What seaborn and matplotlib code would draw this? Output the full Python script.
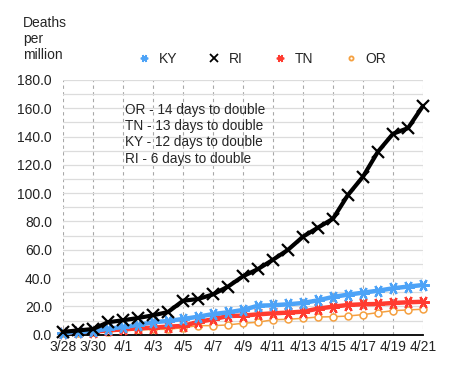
import matplotlib
matplotlib.use("Agg")
import matplotlib.pyplot as plt
from matplotlib.ticker import MultipleLocator, FuncFormatter
from matplotlib.lines import Line2D
import seaborn as sns
import pandas as pd

dates = ["3/28", "3/29", "3/30", "3/31", "4/1", "4/2", "4/3", "4/4", "4/5", "4/6",
         "4/7", "4/8", "4/9", "4/10", "4/11", "4/12", "4/13", "4/14", "4/15", "4/16",
         "4/17", "4/18", "4/19", "4/20", "4/21"]
ky = [1.5, 1.8, 2.5, 4.2, 5.4, 6.9, 8.8, 9.7, 11.1, 12.7, 14.6, 15.8, 17.5, 20.5,
      20.8, 21.5, 22.4, 24.3, 26.7, 28.3, 29.7, 31.1, 32.8, 34.0, 35.1]
ri = [2.0, 3.0, 4.0, 8.8, 10.2, 11.8, 13.7, 16.0, 24.0, 25.2, 28.5, 34.0, 41.3, 46.4,
      53.0, 60.0, 69.3, 75.7, 82.0, 98.8, 111.7, 129.4, 142.0, 146.0, 161.7]
tn = [1.5, 1.8, 2.2, 3.0, 3.8, 4.5, 5.0, 5.7, 6.2, 9.0, 10.9, 13.2, 13.5, 14.4,
      15.1, 15.6, 16.3, 18.4, 19.8, 21.0, 21.5, 21.7, 22.4, 22.9, 23.3]
orr = [1.2, 1.5, 1.8, 2.2, 2.8, 3.3, 3.8, 3.8, 5.0, 6.4, 6.4, 6.9, 8.1, 8.8,
       10.6, 10.9, 11.6, 12.5, 12.7, 13.2, 14.2, 15.6, 17.0, 17.5, 18.0]
series_names = ["KY", "RI", "TN", "OR"]
notes = ["OR - 14 days to double", "TN - 13 days to double",
         "KY - 12 days to double", "RI - 6 days to double"]

frames = []
for name, vals in zip(series_names, [ky, ri, tn, orr]):
    frames.append(pd.DataFrame({"day": range(len(dates)), "value": vals, "state": name}))
df = pd.concat(frames, ignore_index=True)

sns.set_style("white")
plt.rcParams["font.family"] = ["Liberation Sans", "DejaVu Sans"]

fig = plt.figure(figsize=(4.59, 3.66), dpi=100)
ax = fig.add_axes([63/459, 1 - 334.7/366, (423 - 63)/459, (334.7 - 80)/366])

styles = {
    "KY": dict(color="#4da3f7", lw=3.2, marker=(6, 2, 90), ms=9, mew=1.6, mfc="#4da3f7", zorder=4),
    "RI": dict(color="#000000", lw=3.0, marker="x", ms=9, mew=1.6, mfc="#000000", zorder=5),
    "TN": dict(color="#ff3b30", lw=3.2, marker=(6, 2, 90), ms=9, mew=1.6, mfc="#ff3b30", zorder=3),
    "OR": dict(color="#f5a040", lw=1.1, marker="o", ms=5, mew=1.1, mfc="white", zorder=2),
}
for name in series_names:
    st = styles[name]
    sub = df[df["state"] == name]
    sns.lineplot(data=sub, x="day", y="value", ax=ax, color=st["color"],
                 linewidth=st["lw"], marker=st["marker"], markersize=st["ms"],
                 markeredgewidth=st["mew"], markerfacecolor=st["mfc"],
                 markeredgecolor=st["color"], zorder=st["zorder"], clip_on=False)

ax.set_xlim(0, len(dates) - 1)
ax.set_ylim(0, 180)
ax.set_xticks(range(0, len(dates), 2))
ax.set_xticklabels(dates[::2])
ax.yaxis.set_major_locator(MultipleLocator(20))
ax.yaxis.set_minor_locator(MultipleLocator(10))
ax.yaxis.set_major_formatter(FuncFormatter(lambda v, p: f"{v:.1f}"))
ax.grid(True, which="both", axis="y", color="#dcdcdc", linewidth=0.9, linestyle="-")
ax.grid(True, which="major", axis="x", color="#a8a8a8", linewidth=0.8, linestyle=(0, (3, 3)))
ax.set_axisbelow(True)
for s in ["left", "right", "top"]:
    ax.spines[s].set_visible(False)
ax.spines["bottom"].set_color("black")
ax.spines["bottom"].set_linewidth(1.3)
ax.tick_params(axis="both", which="both", length=0, labelsize=10, colors="#222222")
ax.tick_params(axis="x", pad=4)
ax.tick_params(axis="y", pad=8)
ax.set_xlabel("")
ax.set_ylabel("")

handles = []
for name in series_names:
    st = styles[name]
    handles.append(Line2D([], [], linestyle="none", marker=st["marker"],
                          markersize=st["ms"] * 0.6, markeredgewidth=1.3,
                          color=st["color"], markerfacecolor=st["mfc"],
                          markeredgecolor=st["color"]))
fig.legend(handles, series_names, loc="center", bbox_to_anchor=(0.57, 1 - 59/366), ncol=4,
           frameon=False, fontsize=10, handlelength=1.0, handletextpad=0.55,
           columnspacing=2.2)

fig.text(23/459, 1 - 16/366, "Deaths\nper\nmillion", ha="left", va="top", fontsize=10,
         linespacing=1.2)
fig.text(125/459, 1 - 103/366, "\n".join(notes), ha="left", va="top", fontsize=9.8,
         linespacing=1.2)

fig.savefig("out.png", dpi=100)
